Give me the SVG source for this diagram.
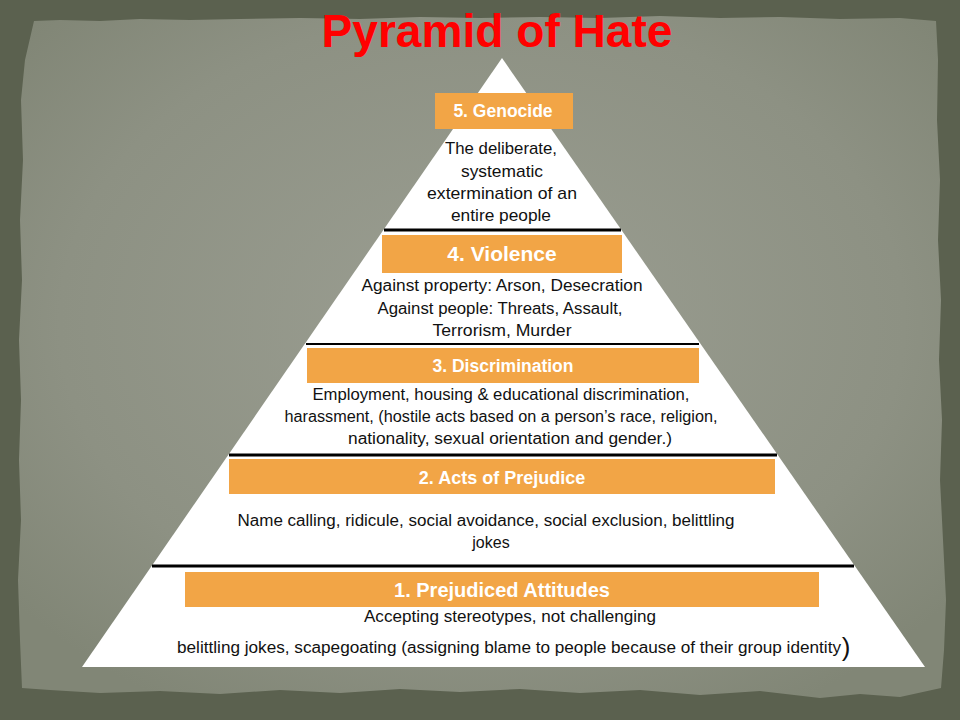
<svg xmlns="http://www.w3.org/2000/svg" width="960" height="720" viewBox="0 0 960 720">
<defs>
<radialGradient id="paper" cx="50%" cy="45%" r="65%">
<stop offset="0" stop-color="#9b9e92"/>
<stop offset="0.7" stop-color="#8d9183"/>
<stop offset="1" stop-color="#818676"/>
</radialGradient>
<style>
.body{font-family:"Liberation Sans",Arial,sans-serif;font-size:16px;fill:#111;text-anchor:middle}
.big{font-size:17px}
.head{font-family:"Liberation Sans",Arial,sans-serif;font-weight:bold;fill:#fff;text-anchor:middle}
.box{fill:#f2a546}
.sep{stroke:#000;stroke-width:3}
</style>
</defs>
<rect width="960" height="720" fill="#5b614f"/>
<polygon fill="url(#paper)" points="34,21 60,20 100,21 140,19 190,20 240,19 300,18 360,19 420,17 480,18 540,17 600,18 660,16 720,18 780,17 840,19 900,18 936,21 938,60 937,120 940,180 938,240 941,300 939,360 942,420 940,480 943,540 946,600 944,650 941,688 900,697 860,694 820,698 760,691 700,695 640,690 580,693 520,689 460,692 400,689 340,693 280,690 220,694 160,691 100,693 50,690 22,688 20,640 18,580 21,520 19,460 21,400 19,340 22,280 20,220 23,160 21,100 25,60"/>
<text x="497" y="47" font-family="Liberation Sans,Arial,sans-serif" font-weight="bold" font-size="46" fill="#ff0000" text-anchor="middle" textLength="351" lengthAdjust="spacingAndGlyphs">Pyramid of Hate</text>
<polygon id="pyramid" points="502,58 925,667 82,667" fill="#ffffff"/>
<g id="connectors">
<line class="sep" x1="384" y1="230" x2="621" y2="230"/>
<line x1="306" y1="344" x2="699" y2="344" stroke="#000" stroke-width="2"/>
<line class="sep" x1="229" y1="455" x2="777" y2="455"/>
<line class="sep" x1="152" y1="566" x2="854" y2="566"/>
</g>
<g id="level5">
<rect class="box" x="435" y="93" width="138" height="36"/>
<text class="head" x="503" y="117" font-size="17.5">5. Genocide</text>
<text class="body big" x="501" y="154" textLength="112" lengthAdjust="spacingAndGlyphs">The deliberate,</text>
<text class="body big" x="502" y="177" textLength="82" lengthAdjust="spacingAndGlyphs">systematic</text>
<text class="body big" x="502" y="199" textLength="150" lengthAdjust="spacingAndGlyphs">extermination of an</text>
<text class="body big" x="501" y="221" textLength="100" lengthAdjust="spacingAndGlyphs">entire people</text>
</g>
<g id="level4">
<rect class="box" x="382" y="235" width="240" height="38"/>
<text class="head" x="502" y="261" font-size="21">4. Violence</text>
<text class="body" x="502" y="291" textLength="281" lengthAdjust="spacingAndGlyphs">Against property: Arson, Desecration</text>
<text class="body" x="500" y="314" textLength="245" lengthAdjust="spacingAndGlyphs">Against people: Threats, Assault,</text>
<text class="body" x="502" y="336" textLength="139" lengthAdjust="spacingAndGlyphs">Terrorism, Murder</text>
</g>
<g id="level3">
<rect class="box" x="307" y="348" width="392" height="35"/>
<text class="head" x="503" y="372" font-size="17.5">3. Discrimination</text>
<text class="body" x="501" y="400" textLength="377" lengthAdjust="spacingAndGlyphs">Employment, housing &amp; educational discrimination,</text>
<text class="body" x="501" y="422" textLength="433" lengthAdjust="spacingAndGlyphs">harassment, (hostile acts based on a person’s race, religion,</text>
<text class="body" x="510" y="444" textLength="324" lengthAdjust="spacingAndGlyphs">nationality, sexual orientation and gender.)</text>
</g>
<g id="level2">
<rect class="box" x="229" y="459" width="546" height="35"/>
<text class="head" x="502" y="484" font-size="18">2. Acts of Prejudice</text>
<text class="body" x="486" y="526" textLength="497" lengthAdjust="spacingAndGlyphs">Name calling, ridicule, social avoidance, social exclusion, belittling</text>
<text class="body" x="491" y="548">jokes</text>
</g>
<g id="level1">
<rect class="box" x="185" y="572" width="634" height="35"/>
<text class="head" x="502" y="597" font-size="20">1. Prejudiced Attitudes</text>
<text class="body" x="510" y="622" textLength="292" lengthAdjust="spacingAndGlyphs">Accepting stereotypes, not challenging</text>
<text class="body" x="509" y="653" textLength="664" lengthAdjust="spacingAndGlyphs">belittling  jokes, scapegoating (assigning blame to people because of their group identity</text>
<text class="body" x="846" y="656" style="font-size:26px">)</text>
</g>
</svg>
